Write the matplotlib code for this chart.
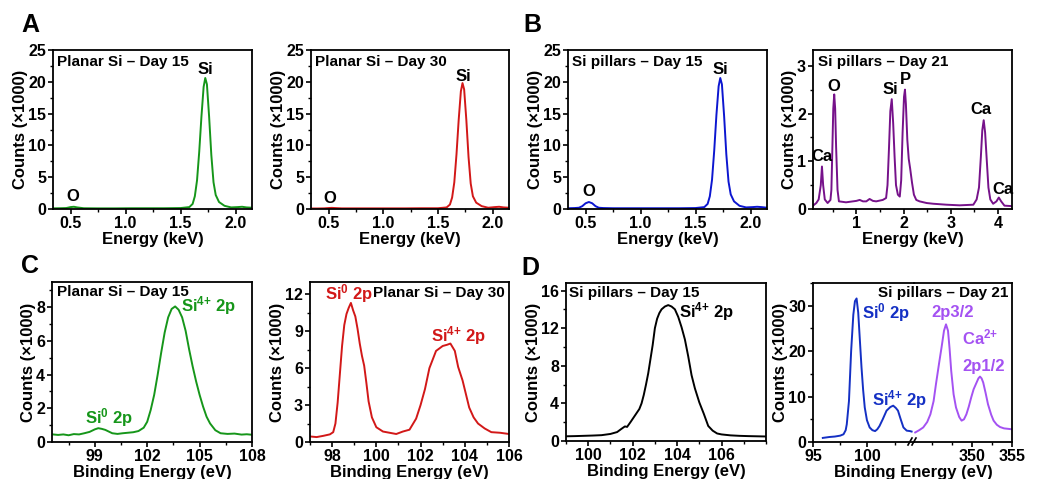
import numpy as np
import matplotlib
matplotlib.use("Agg")
import matplotlib.pyplot as plt
from matplotlib.ticker import AutoMinorLocator

plt.rcParams['font.family'] = ['Liberation Sans', 'DejaVu Sans']
plt.rcParams['font.weight'] = 'bold'
plt.rcParams['mathtext.fontset'] = 'custom'
plt.rcParams['mathtext.rm'] = 'Liberation Sans:bold'
plt.rcParams['mathtext.bf'] = 'Liberation Sans:bold'
plt.rcParams['mathtext.default'] = 'rm'

# ---------------- EDS data (keV, counts x1000) ----------------
a1_x = [0.34, 0.40, 0.46, 0.50, 0.53, 0.56, 0.62, 0.75, 0.90, 1.05, 1.20, 1.35, 1.50, 1.58, 1.61,
        1.63, 1.65, 1.67, 1.69, 1.71, 1.725, 1.74, 1.76, 1.78, 1.80, 1.82, 1.85, 1.90, 1.96, 2.02,
        2.06, 2.10, 2.15]
a1_y = [0.10, 0.12, 0.15, 0.30, 0.35, 0.25, 0.12, 0.10, 0.10, 0.12, 0.12, 0.12, 0.15, 0.30, 0.8,
        2.0, 4.5, 9.0, 14.5, 19.2, 20.6, 19.6, 14.5, 8.5, 4.2, 2.2, 1.1, 0.5, 0.25, 0.30,
        0.35, 0.25, 0.20]

a2_x = a1_x
a2_y = [0.08, 0.08, 0.10, 0.15, 0.18, 0.15, 0.10, 0.10, 0.10, 0.10, 0.10, 0.12, 0.12, 0.25, 0.7,
        1.8, 4.2, 8.6, 14.0, 18.5, 19.8, 18.8, 14.0, 8.2, 4.0, 2.0, 1.0, 0.45, 0.2, 0.3,
        0.35, 0.25, 0.2]

b1_x = [0.34, 0.40, 0.44, 0.47, 0.50, 0.53, 0.56, 0.59, 0.62, 0.66, 0.75, 0.90, 1.05, 1.20, 1.35,
        1.50, 1.58, 1.61, 1.63, 1.65, 1.67, 1.69, 1.71, 1.725, 1.74, 1.76, 1.78, 1.80, 1.82, 1.85,
        1.90, 1.96, 2.02, 2.06, 2.10, 2.15]
b1_y = [0.12, 0.15, 0.2, 0.45, 0.9, 1.1, 0.9, 0.45, 0.2, 0.15, 0.12, 0.12, 0.12, 0.12, 0.12,
        0.15, 0.3, 0.8, 2.0, 4.6, 9.2, 14.8, 19.3, 20.6, 19.6, 14.6, 8.6, 4.3, 2.3, 1.2,
        0.5, 0.25, 0.3, 0.35, 0.3, 0.2]

b2_x = [0.08, 0.15, 0.20, 0.245, 0.27, 0.295, 0.33, 0.39, 0.45, 0.47, 0.49, 0.51, 0.53, 0.55, 0.57,
        0.60, 0.63, 0.78, 1.00, 1.07, 1.14, 1.21, 1.28, 1.35, 1.42, 1.56, 1.63, 1.66, 1.69, 1.72,
        1.75, 1.78, 1.81, 1.84, 1.88, 1.92, 1.95, 1.98, 2.01, 2.03, 2.05, 2.08, 2.11, 2.14, 2.18,
        2.22, 2.27, 2.34, 2.49, 2.63, 2.91, 3.19, 3.48, 3.55, 3.60, 3.64, 3.67, 3.70, 3.73, 3.76,
        3.80, 3.84, 3.90, 3.97, 4.02, 4.07, 4.14, 4.30]
b2_y = [0.07, 0.125, 0.2, 0.5, 0.89, 0.5, 0.2, 0.125, 0.19, 0.4, 1.24, 2.1, 2.4, 2.1, 1.3,
        0.4, 0.16, 0.14, 0.17, 0.19, 0.16, 0.16, 0.21, 0.17, 0.16, 0.19, 0.23, 0.5, 1.24, 2.05,
        2.3, 1.8, 1.1, 0.5, 0.3, 0.26, 0.6, 1.6, 2.35, 2.5, 2.2, 1.45, 1.05, 0.85, 0.55,
        0.3, 0.19, 0.16, 0.125, 0.11, 0.09, 0.077, 0.09, 0.2, 0.45, 1.1, 1.65, 1.86, 1.6, 1.1,
        0.45, 0.2, 0.11, 0.16, 0.24, 0.16, 0.07, 0.06]

# ---------------- XPS data (eV, counts x1000) ----------------
c1_x = [96.6, 96.9, 97.2, 97.5, 97.8, 98.1, 98.4, 98.7, 99.0, 99.2, 99.4, 99.6, 99.8, 100.0, 100.3,
        100.6, 100.9, 101.2, 101.5, 101.8, 102.0, 102.2, 102.4, 102.6, 102.8, 103.0, 103.2, 103.4,
        103.6, 103.8, 104.0, 104.2, 104.4, 104.6, 104.8, 105.0, 105.2, 105.4, 105.6, 105.9, 106.2,
        106.6, 107.0, 107.4, 107.7, 108.0]
c1_y = [0.45, 0.42, 0.45, 0.40, 0.47, 0.45, 0.52, 0.60, 0.75, 0.82, 0.78, 0.72, 0.62, 0.52, 0.48,
        0.52, 0.55, 0.58, 0.65, 0.85, 1.20, 1.90, 2.80, 4.00, 5.30, 6.50, 7.40, 7.90,
        8.05, 7.85, 7.40, 6.60, 5.50, 4.50, 3.60, 2.80, 2.10, 1.50, 1.10, 0.70, 0.52,
        0.48, 0.50, 0.44, 0.46, 0.43]

c2_x = [97.0, 97.3, 97.6, 97.9, 98.05, 98.15, 98.25, 98.35, 98.45, 98.55, 98.65, 98.75, 98.85, 98.95,
        99.05, 99.15, 99.25, 99.35, 99.45, 99.55, 99.65, 99.8, 100.0, 100.3, 100.6, 100.9, 101.2,
        101.5, 101.8, 102.0, 102.2, 102.4, 102.7, 103.0, 103.2, 103.35, 103.55, 103.7, 103.9, 104.2,
        104.4, 104.6, 104.9, 105.2, 105.6, 106.0]
c2_y = [0.45, 0.40, 0.50, 0.62, 0.80, 1.5, 3.2, 5.5, 7.8, 9.5, 10.4, 10.9, 11.3, 10.7,
        10.2, 9.2, 8.0, 7.0, 6.2, 4.8, 3.3, 2.0, 1.2, 0.85, 0.75, 0.65, 0.85,
        1.0, 1.9, 3.0, 4.3, 6.0, 7.4, 7.8, 7.9, 8.0, 7.4, 6.1, 5.0, 2.8,
        2.0, 1.5, 1.1, 0.8, 0.75, 0.65]

d1_x = [99.0, 99.4, 99.8, 100.2, 100.6, 101.0, 101.3, 101.5, 101.65, 101.75, 101.9, 102.1, 102.3,
        102.4, 102.5, 102.6, 102.7, 102.8, 102.9, 103.0, 103.1, 103.2, 103.3, 103.45, 103.6, 103.75,
        103.9, 104.05, 104.2, 104.35, 104.5, 104.65, 104.8, 105.0, 105.2, 105.4, 105.6, 105.8, 106.0,
        106.4, 106.8, 107.2, 107.6, 108.0]
d1_y = [0.50, 0.52, 0.55, 0.58, 0.62, 0.75, 0.95, 1.30, 1.55, 1.50, 2.00, 2.70, 3.40,
        4.0, 4.9, 6.0, 7.2, 8.7, 10.2, 12.0, 13.0, 13.6, 14.0, 14.3, 14.45, 14.3,
        14.0, 13.2, 12.1, 10.8, 9.0, 7.0, 5.6, 4.1, 2.9, 1.6, 1.1, 0.8, 0.7,
        0.6, 0.55, 0.52, 0.5, 0.48]

d2_si_x = [95.9, 96.5, 97.0, 97.5, 97.8, 98.0, 98.1, 98.3, 98.5, 98.7, 98.85, 99.0, 99.15, 99.3,
           99.45, 99.6, 99.75, 99.95, 100.2, 100.45, 100.7, 100.9, 101.1, 101.4, 101.75, 102.1,
           102.36, 102.6, 102.8, 103.05, 103.3, 103.6, 103.9, 104.05]
d2_si_y = [0.9, 1.1, 1.2, 1.4, 1.7, 2.6, 3.9, 9.0, 20.0, 28.0, 31.0, 31.6, 28.5, 22.5,
           16.5, 11.5, 7.6, 4.8, 3.2, 2.6, 2.4, 2.8, 3.5, 5.0, 6.9, 7.7,
           8.0, 7.5, 6.9, 5.0, 3.2, 2.5, 2.4, 2.3]

d2_ca_x = [342.9, 343.4, 343.9, 344.4, 344.8, 345.2, 345.5, 345.9, 346.2, 346.5, 346.75, 347.0,
           347.2, 347.4, 347.7, 348.0, 348.4, 348.7, 349.0, 349.3, 349.6, 349.9, 350.2, 350.5,
           350.8, 351.0, 351.2, 351.4, 351.7, 352.0, 352.4, 352.7, 353.1, 353.5, 354.0, 354.5, 355.0]
d2_ca_y = [2.1, 2.6, 3.2, 4.4, 6.1, 9.0, 12.8, 17.5, 20.9, 24.5, 25.9, 24.5,
           20.5, 15.7, 10.5, 7.6, 5.5, 4.7, 5.0, 6.1, 7.8, 9.8, 11.6, 12.8,
           14.0, 14.4, 14.0, 13.1, 10.8, 8.3, 6.0, 4.7, 3.8, 3.3, 3.0, 2.9, 2.8]

GREEN = '#16961a'
RED = '#d21818'
BLUE = '#0c16d0'
PURPLE = '#76128a'
DBLUE = '#1430c4'
VIOLET = '#a452f2'

W, H = 1040, 479
fig = plt.figure(figsize=(W / 100, H / 100), dpi=100)


def box(l, t, r, b):
    return [l / W, 1 - b / H, (r - l) / W, (b - t) / H]


def style(ax, xlabel, ylabel=None):
    ax.patch.set_alpha(0)
    for s in ax.spines.values():
        s.set_linewidth(1.3)
    ax.tick_params(which='major', direction='out', length=3.5, width=1.2, labelsize=11.5, pad=1.5)
    ax.tick_params(which='minor', direction='out', length=2, width=1)
    ax.xaxis.set_minor_locator(AutoMinorLocator(2))
    ax.yaxis.set_minor_locator(AutoMinorLocator(2))
    if xlabel:
        ax.set_xlabel(xlabel, fontsize=12, fontweight='bold', labelpad=1)
    if ylabel:
        ax.set_ylabel(ylabel, fontsize=12, fontweight='bold', labelpad=0)


YL = 'Counts (\u00d71000)'
LW = 1.4
TS = 11    # panel title size
PS = 12    # peak label size

# ---- A ----
ax = fig.add_axes(box(53, 50, 252, 209))
ax.plot(a1_x, a1_y, color=GREEN, lw=LW)
ax.set_xlim(0.34, 2.15)
ax.set_ylim(0, 25)
ax.set_xticks([0.5, 1.0, 1.5, 2.0])
ax.set_yticks([0, 5, 10, 15, 20, 25])
style(ax, 'Energy (keV)', YL)
ax.text(0.02, 0.925, 'Planar Si \u2013 Day 15', transform=ax.transAxes, fontsize=TS, va='center')
ax.text(1.73, 21.9, 'Si', fontsize=PS, ha='center', va='center')
ax.text(0.52, 1.9, 'O', fontsize=PS, ha='center', va='center')

ax = fig.add_axes(box(311, 50, 509, 209))
ax.plot(a2_x, a2_y, color=RED, lw=LW)
ax.set_xlim(0.34, 2.15)
ax.set_ylim(0, 25)
ax.set_xticks([0.5, 1.0, 1.5, 2.0])
ax.set_yticks([0, 5, 10, 15, 20, 25])
style(ax, 'Energy (keV)', YL)
ax.text(0.02, 0.925, 'Planar Si \u2013 Day 30', transform=ax.transAxes, fontsize=TS, va='center')
ax.text(1.73, 20.9, 'Si', fontsize=PS, ha='center', va='center')
ax.text(0.51, 1.7, 'O', fontsize=PS, ha='center', va='center')

# ---- B ----
ax = fig.add_axes(box(568, 50, 767, 209))
ax.plot(b1_x, b1_y, color=BLUE, lw=LW)
ax.set_xlim(0.34, 2.15)
ax.set_ylim(0, 25)
ax.set_xticks([0.5, 1.0, 1.5, 2.0])
ax.set_yticks([0, 5, 10, 15, 20, 25])
style(ax, 'Energy (keV)', YL)
ax.text(0.02, 0.925, 'Si pillars \u2013 Day 15', transform=ax.transAxes, fontsize=TS, va='center')
ax.text(1.73, 22.0, 'Si', fontsize=PS, ha='center', va='center')
ax.text(0.53, 2.7, 'O', fontsize=PS, ha='center', va='center')

ax = fig.add_axes(box(813, 50, 1012, 209))
ax.plot(b2_x, b2_y, color=PURPLE, lw=LW)
ax.set_xlim(0.08, 4.3)
ax.set_ylim(0, 3.33)
ax.set_xticks([1, 2, 3, 4])
ax.set_yticks([0, 1, 2, 3])
style(ax, 'Energy (keV)', YL)
ax.text(0.025, 0.925, 'Si pillars \u2013 Day 21', transform=ax.transAxes, fontsize=TS, va='center')
for lx, ly, s in [(0.27, 1.09, 'Ca'), (0.53, 2.56, 'O'), (1.72, 2.5, 'Si'), (2.03, 2.72, 'P'),
                  (3.65, 2.08, 'Ca'), (4.1, 0.41, 'Ca')]:
    ax.text(lx, ly, s, fontsize=PS, ha='center', va='center')

# ---- C ----
ax = fig.add_axes(box(52, 282, 252, 442))
ax.plot(c1_x, c1_y, color=GREEN, lw=LW)
ax.set_xlim(96.55, 108)
ax.set_ylim(0, 9.5)
ax.set_xticks([99, 102, 105, 108])
ax.set_yticks([0, 2, 4, 6, 8])
style(ax, 'Binding Energy (eV)', YL)
ax.text(0.025, 0.94, 'Planar Si \u2013 Day 15', transform=ax.transAxes, fontsize=TS, va='center')
ax.text(105.5, 8.1, 'Si$^{4{+}}$ 2p', fontsize=PS, color=GREEN, ha='center', va='center')
ax.text(99.8, 1.43, 'Si$^{0}$ 2p', fontsize=PS, color=GREEN, ha='center', va='center')

ax = fig.add_axes(box(310, 282, 509, 442))
ax.plot(c2_x, c2_y, color=RED, lw=LW)
ax.set_xlim(97, 106)
ax.set_ylim(0, 13)
ax.set_xticks([98, 100, 102, 104, 106])
ax.set_yticks([0, 3, 6, 9, 12])
style(ax, 'Binding Energy (eV)', YL)
ax.text(0.98, 0.93, 'Planar Si \u2013 Day 30', transform=ax.transAxes, fontsize=TS,
        ha='right', va='center')
ax.text(98.76, 12.1, 'Si$^{0}$ 2p', fontsize=PS, color=RED, ha='center', va='center')
ax.text(103.7, 8.65, 'Si$^{4{+}}$ 2p', fontsize=PS, color=RED, ha='center', va='center')

# ---- D ----
ax = fig.add_axes(box(566, 283, 766, 441))
ax.plot(d1_x, d1_y, color='black', lw=LW)
ax.set_xlim(99, 108)
ax.set_ylim(0, 16.8)
ax.set_xticks([100, 102, 104, 106])
ax.set_yticks([0, 4, 8, 12, 16])
style(ax, 'Binding Energy (eV)', YL)
ax.text(0.015, 0.937, 'Si pillars \u2013 Day 15', transform=ax.transAxes, fontsize=TS, va='center')
ax.text(105.33, 13.8, 'Si$^{4{+}}$ 2p', fontsize=PS, ha='center', va='center')

axl = fig.add_axes(box(813, 283, 914, 442))
axr = fig.add_axes(box(914, 283, 1012, 442))
axl.plot(d2_si_x, d2_si_y, color=DBLUE, lw=LW)
axr.plot(d2_ca_x, d2_ca_y, color=VIOLET, lw=LW)
axl.set_xlim(95, 104.27)
axr.set_xlim(342.75, 355)
for a in (axl, axr):
    a.set_ylim(0, 35)
axl.set_xticks([95, 100])
axr.set_xticks([350, 355])
axl.set_yticks([0, 10, 20, 30])
style(axl, None, YL)
style(axr, None)
axl.spines['right'].set_visible(False)
axr.spines['left'].set_visible(False)
axr.tick_params(axis='y', which='both', left=False, labelleft=False)
axr.set_xticks([345, 347.5, 352.5], minor=True)
fig.text(913 / W, 1 - 472 / H, 'Binding Energy (eV)', fontsize=12, ha='center', va='center')
axr.text(0.96, 0.937, 'Si pillars \u2013 Day 21', transform=axr.transAxes, fontsize=TS,
         ha='right', va='center')
axl.text(101.74, 28.4, 'Si$^{0}$ 2p', fontsize=PS, color=DBLUE, ha='center', va='center')
axl.text(102.94, 9.3, 'Si$^{4{+}}$ 2p', fontsize=PS, color=DBLUE, ha='center', va='center',
         clip_on=False, zorder=10)
axr.text(347.6, 28.4, '2p3/2', fontsize=PS, color=VIOLET, ha='center', va='center')
axr.text(351.0, 23.1, 'Ca$^{2{+}}$', fontsize=PS, color=VIOLET, ha='center', va='center')
axr.text(351.4, 16.7, '2p1/2', fontsize=PS, color=VIOLET, ha='center', va='center')
# axis break marks
for dx in (-4, 0):
    x0 = (914 + dx - 2) / W
    fig.add_artist(plt.Line2D([x0, x0 + 4 / W], [1 - 445 / H, 1 - 438 / H], color='black',
                              lw=1.2, transform=fig.transFigure))

# panel letters
for px, py, s in [(30, 25, 'A'), (532, 25, 'B'), (30, 266, 'C'), (530, 268, 'D')]:
    fig.text(px / W, 1 - py / H, s, fontsize=18, ha='center', va='center')

fig.savefig('out.png', dpi=100)
